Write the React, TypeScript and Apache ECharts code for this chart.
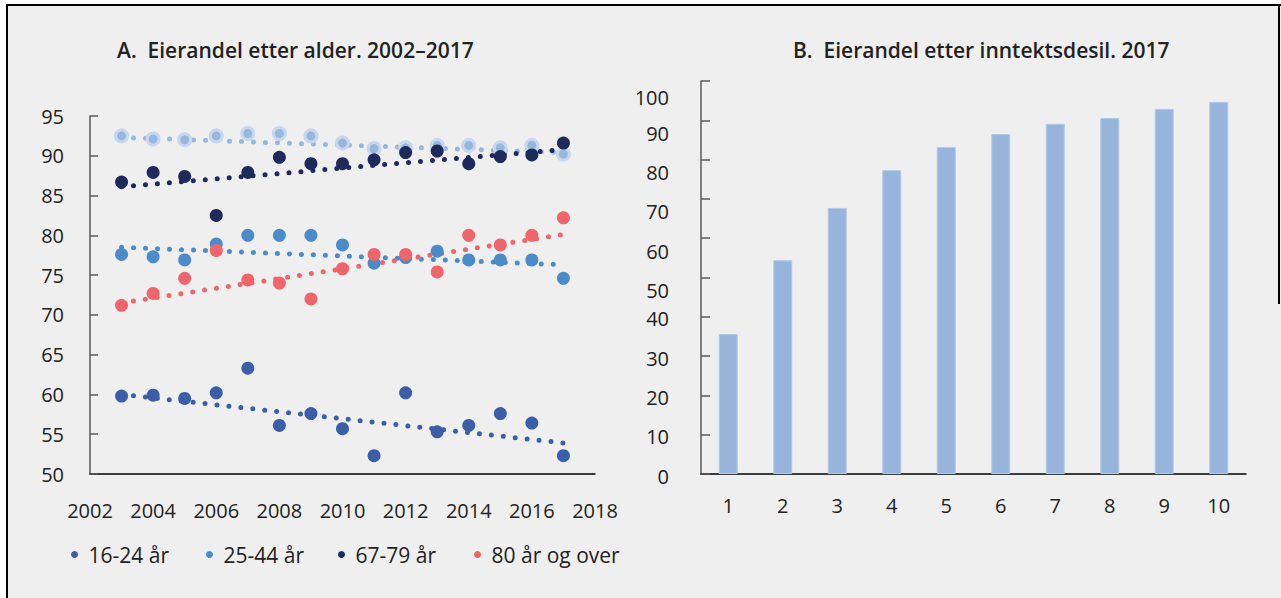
import React, { useEffect, useRef } from "react";
import * as echarts from "echarts";

// ---- Data ----
const years = [2003, 2004, 2005, 2006, 2007, 2008, 2009, 2010, 2011, 2012, 2013, 2014, 2015, 2016, 2017];
const age1624 = [59.8, 59.9, 59.5, 60.2, 63.3, 56.1, 57.6, 55.7, 52.3, 60.2, 55.3, 56.1, 57.6, 56.4, 52.3];
const age2544 = [77.6, 77.3, 76.9, 78.9, 80.0, 80.0, 80.0, 78.8, 76.5, 77.2, 78.0, 76.9, 76.9, 76.9, 74.6];
const age4566 = [92.5, 92.1, 92.0, 92.5, 92.8, 92.8, 92.5, 91.6, 90.9, 91.0, 91.3, 91.3, 91.0, 91.3, 90.2];
const age6779 = [86.7, 87.9, 87.4, 82.5, 87.9, 89.8, 89.0, 89.0, 89.5, 90.4, 90.6, 89.0, 89.9, 90.1, 91.6];
const age80 = [71.2, 72.7, 74.6, 78.1, 74.4, 74.0, 72.0, 75.8, 77.6, 77.6, 75.4, 80.0, 78.8, 80.0, 82.2];

// trend line end points (first year, last year)
const trendYears = [2003, 2017];
const trend1624 = [60.0, 53.9];
const trend2544 = [78.5, 76.3];
const trend4566 = [92.3, 90.4];
const trend6779 = [86.1, 90.8];
const trend80 = [71.5, 80.1];

const deciles = ["1", "2", "3", "4", "5", "6", "7", "8", "9", "10"];
const ownership = [35.6, 54.4, 67.7, 77.3, 83.2, 86.5, 89.1, 90.6, 92.9, 94.7];

const titleA = "A.  Eierandel etter alder. 2002–2017";
const titleB = "B.  Eierandel etter inntektsdesil. 2017";

const FONT = "'Open Sans', 'Noto Sans', sans-serif";
const TXT = "#222222";

const C1624 = "#3b5ea9";
const C2544 = "#4b8bc9";
const C4566 = "#98b7de";
const C6779 = "#1f2a5c";
const C80 = "#f0646b";

const pts = (vals: number[]) => years.map((y, i) => [y, vals[i]]);
const trend = (vals: number[]) => trendYears.map((y, i) => [y, vals[i]]);

function scatter(name: string, vals: number[], color: string, halo?: string) {
  return {
    type: "scatter",
    name,
    xAxisIndex: 0,
    yAxisIndex: 0,
    data: pts(vals),
    symbol: "circle",
    symbolSize: halo ? 12 : 13,
    itemStyle: halo
      ? { color, borderColor: halo, borderWidth: 3, opacity: 1 }
      : { color, opacity: 1 },
    z: 3,
  };
}

function trendLine(vals: number[], color: string) {
  return {
    type: "line",
    xAxisIndex: 0,
    yAxisIndex: 0,
    data: trend(vals),
    symbol: "none",
    silent: true,
    lineStyle: { color, width: 5, type: [0, 12], cap: "round" },
    z: 2,
  };
}

function legend(name: string, left: number) {
  return {
    data: [name],
    left,
    top: 539,
    orient: "horizontal",
    icon: "circle",
    itemWidth: 18,
    itemHeight: 7,
    selectedMode: false,
    textStyle: { fontFamily: FONT, fontSize: 21, color: TXT },
  };
}

const option = {
  animation: false,
  backgroundColor: "#efefef",
  textStyle: { fontFamily: FONT },
  title: [
    {
      text: titleA,
      left: 112,
      top: 34,
      textStyle: { fontFamily: FONT, fontSize: 21, fontWeight: 600, color: TXT },
    },
    {
      text: titleB,
      left: 788,
      top: 34,
      textStyle: { fontFamily: FONT, fontSize: 21, fontWeight: 600, color: TXT },
    },
  ],
  legend: [
    legend("16-24 år", 66),
    legend("25-44 år", 201),
    legend("67-79 år", 333),
    legend("80 år og over", 469),
  ],
  grid: [
    { left: 90, right: 1281 - 595, top: 116, bottom: 124 },
    { left: 701, right: 1281 - 1246, top: 81, bottom: 124 },
  ],
  xAxis: [
    {
      type: "value",
      gridIndex: 0,
      min: 2002,
      max: 2018,
      interval: 2,
      splitLine: { show: false },
      axisTick: { show: false },
      axisLine: { show: true, lineStyle: { color: "#000", width: 1.5 } },
      axisLabel: {
        margin: 26,
        fontSize: 20,
        color: TXT,
        fontFamily: FONT,
        formatter: (v: number) => String(v),
      },
    },
    {
      type: "category",
      gridIndex: 1,
      data: deciles,
      boundaryGap: true,
      axisTick: { show: false },
      axisLine: { show: true, lineStyle: { color: "#000", width: 1.5 } },
      axisLabel: { margin: 21, fontSize: 20, color: TXT, fontFamily: FONT },
    },
  ],
  yAxis: [
    {
      type: "value",
      gridIndex: 0,
      min: 50,
      max: 95,
      interval: 5,
      splitLine: { show: false },
      axisLine: { show: true, lineStyle: { color: "#5a5a5a", width: 1.5 } },
      axisTick: { show: true, inside: true, length: 8, lineStyle: { color: "#5a5a5a", width: 1.5 } },
      axisLabel: { margin: 26, fontSize: 20, color: TXT, fontFamily: FONT },
    },
    {
      type: "value",
      gridIndex: 1,
      min: 0,
      max: 100,
      interval: 10,
      splitLine: { show: false },
      axisLine: { show: true, lineStyle: { color: "#5a5a5a", width: 1.5 } },
      axisTick: { show: true, inside: true, length: 9, lineStyle: { color: "#5a5a5a", width: 1.5 } },
      axisLabel: {
        margin: 32,
        fontSize: 20,
        color: TXT,
        fontFamily: FONT,
        formatter: (v: number) => (v >= 100 ? `{t|${v}}` : v >= 50 ? `{h|${v}}` : `{l|${v}}`),
        rich: {
          t: { fontSize: 20, color: TXT, fontFamily: FONT, padding: [32, 0, 0, 0] },
          h: { fontSize: 20, color: TXT, fontFamily: FONT, padding: [26, 0, 0, 0] },
          l: { fontSize: 20, color: TXT, fontFamily: FONT, padding: [4, 0, 0, 0] },
        },
      },
    },
  ],
  graphic: [
    { type: "rect", shape: { x: 0, y: 0, width: 1281, height: 4 }, style: { fill: "#ffffff" }, silent: true },
    { type: "rect", shape: { x: 0, y: 0, width: 6, height: 598 }, style: { fill: "#ffffff" }, silent: true },
    { type: "rect", shape: { x: 6, y: 4, width: 1275, height: 2 }, style: { fill: "#000000" }, silent: true },
    { type: "rect", shape: { x: 6, y: 4, width: 2, height: 594 }, style: { fill: "#000000" }, silent: true },
    { type: "rect", shape: { x: 1278, y: 4, width: 2, height: 300 }, style: { fill: "#000000" }, silent: true },
  ],
  series: [
    trendLine(trend4566, C4566),
    trendLine(trend6779, C6779),
    trendLine(trend2544, C2544),
    trendLine(trend80, C80),
    trendLine(trend1624, C1624),
    scatter("45-66 år", age4566, C4566, "#c6d7ee"),
    scatter("16-24 år", age1624, C1624),
    scatter("25-44 år", age2544, C2544),
    scatter("80 år og over", age80, C80),
    scatter("67-79 år", age6779, C6779),
    {
      type: "bar",
      name: "Eierandel",
      xAxisIndex: 1,
      yAxisIndex: 1,
      data: ownership,
      barWidth: 19,
      itemStyle: { color: "#97b5dc", borderColor: "#b2c9e7", borderWidth: 1 },
    },
  ],
};

export default function App() {
  const ref = useRef<HTMLDivElement>(null);
  useEffect(() => {
    if (!ref.current) return;
    const chart = echarts.init(ref.current, null, { renderer: "svg" });
    chart.setOption(option as any);
    return () => chart.dispose();
  }, []);
  return (
    <div
      ref={ref}
      style={{ position: "absolute", left: 0, top: 0, width: 1281, height: 598, background: "#ffffff" }}
    />
  );
}
